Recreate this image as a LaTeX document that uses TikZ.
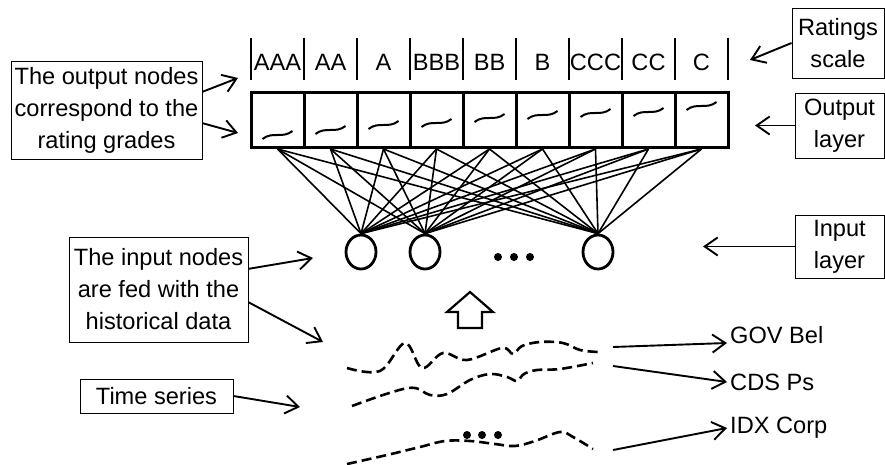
\documentclass[tikz,border=0pt]{standalone}
\usepackage{fontspec}
\setmainfont{Liberation Sans}
\usetikzlibrary{arrows.meta,shapes.geometric,calc}
\begin{document}
\begin{tikzpicture}[x=1pt,y=-1pt,
 every node/.style={font=\fontsize{23.6}{32}\selectfont},
 obox/.style={draw,line width=3pt,minimum width=53pt,minimum height=55pt,inner sep=0pt},
 inode/.style={draw,ellipse,line width=2.8pt,minimum width=30pt,minimum height=34pt,inner sep=0pt},
 note/.style={draw,line width=0.9pt,align=center,inner sep=0pt},
 arr/.style={line width=1.9pt,-{Straight Barb[length=13pt,width=18pt]}},
 link/.style={line width=1.6pt},
 series/.style={line width=2.6pt,dash pattern=on 10pt off 5pt},
 sig/.style={line width=2pt},
 tick/.style={line width=1.1pt},
 dotm/.style={fill,circle,inner sep=0pt,minimum size=8pt},
 lab/.style={inner sep=3pt},
]
\useasboundingbox (0,0) rectangle (885,465);

% output layer boxes, labels, sigmoids
\foreach \k/\lab/\sy in {1/AAA/135,2/AA/130,3/A/125,4/BBB/123,5/BB/118,6/B/115,7/CCC/113,8/CC/112,9/C/106}{
  \node[obox] (o\k) at ({224.5+53*\k},120) {};
  \node (r\k) at ({224.5+53*\k},62) {\lab};
  \draw[sig] ({224.5+53*\k-15},{\sy+4}) .. controls ({224.5+53*\k-5},{\sy-4}) and ({224.5+53*\k+5},{\sy+4}) .. ({224.5+53*\k+15},{\sy-4});
}
\foreach \i in {0,...,9}{
  \draw[tick] ({251+53*\i},38) -- ({251+53*\i},80);
}

% input layer
\node[inode] (i1) at (361,252) {};
\node[inode] (i2) at (425,252) {};
\node[inode] (i3) at (598,252) {};
\node[dotm] (d1) at (498,257) {};
\node[dotm] (d2) at (514,257) {};
\node[dotm] (d3) at (530,257) {};

\foreach \k in {1,...,9}{
  \foreach \j in {1,2,3}{
    \draw[link] (o\k.south) -- (i\j.north);
  }
}

% annotation boxes
\node[note,minimum width=191pt,minimum height=98pt] (on) at (106.5,110) {The output nodes\\correspond to the\\rating grades};
\node[note,minimum width=179pt,minimum height=105pt] (in) at (158.5,289.5) {The input nodes\\are fed with the\\historical data};
\node[note,minimum width=153pt,minimum height=34pt] (ts) at (156.5,396) {Time series};
\node[note,minimum width=92pt,minimum height=70pt] (rs) at (838,43) {Ratings\\scale};
\node[note,minimum width=89pt,minimum height=65pt] (ol) at (839.5,125.5) {Output\\layer};
\node[note,minimum width=89pt,minimum height=63pt] (il) at (839.5,246.5) {Input\\layer};

\coordinate (rsT) at (750,60);
\coordinate (olT) at (755,125.5);
\coordinate (ilT) at (703,246.5);
\coordinate (onA) at (238,78);
\coordinate (onB) at (238,133);
\coordinate (inA) at (313,258);
\coordinate (inB) at (323,342);
\coordinate (tsT) at (300,407);

\draw[arr] (rs.west) -- (rsT);
\draw[arr] (ol.west) -- (olT);
\draw[arr] (il.west) -- (ilT);
\draw[arr] ($(on.north east)!0.316!(on.south east)$) -- (onA);
\draw[arr] ($(on.north east)!0.633!(on.south east)$) -- (onB);
\draw[arr] ($(in.north east)!0.305!(in.south east)$) -- (inA);
\draw[arr] ($(in.north east)!0.62!(in.south east)$) -- (inB);
\draw[arr] (ts.east) -- (tsT);

% hollow up arrow
\draw[line width=2.2pt,line join=miter] (470,292) -- (493,312) -- (482,312) -- (482,328) -- (458,328) -- (458,312) -- (447,312) -- cycle;

% time series
\draw[series] plot[smooth,tension=0.6] coordinates {(347,368) (380,371) (405,343) (422,368) (443,353) (467,360) (502,348) (513,354) (522,346) (540,342) (563,343) (580,350) (598,352)};
\draw[series] plot[smooth,tension=0.6] coordinates {(352,406) (408,388) (430,395) (447,394) (470,380) (490,374) (507,377) (517,381) (524,374) (537,370) (560,369) (593,363)};
\draw[series] plot[smooth,tension=0.6] coordinates {(347,464) (387,455) (420,447) (445,441) (470,441) (495,444) (515,446) (535,441) (560,432) (573,437) (593,449)};
\node[dotm] (e1) at (467,435) {};
\node[dotm] (e2) at (482,435) {};
\node[dotm] (e3) at (498,435) {};

\node[lab,anchor=base west] (gov) at (727,343) {GOV Bel};
\node[lab,anchor=west] (cds) at (727,382) {CDS Ps};
\node[lab,anchor=west] (idx) at (727,428) {IDX Corp};

\coordinate (s1) at (613,347);
\coordinate (s2) at (613,366);
\coordinate (s3) at (613,450);
\draw[arr] (s1) -- (gov.base west);
\draw[arr] (s2) -- (cds.west);
\draw[arr] (s3) -- (idx.west);
\end{tikzpicture}
\end{document}
